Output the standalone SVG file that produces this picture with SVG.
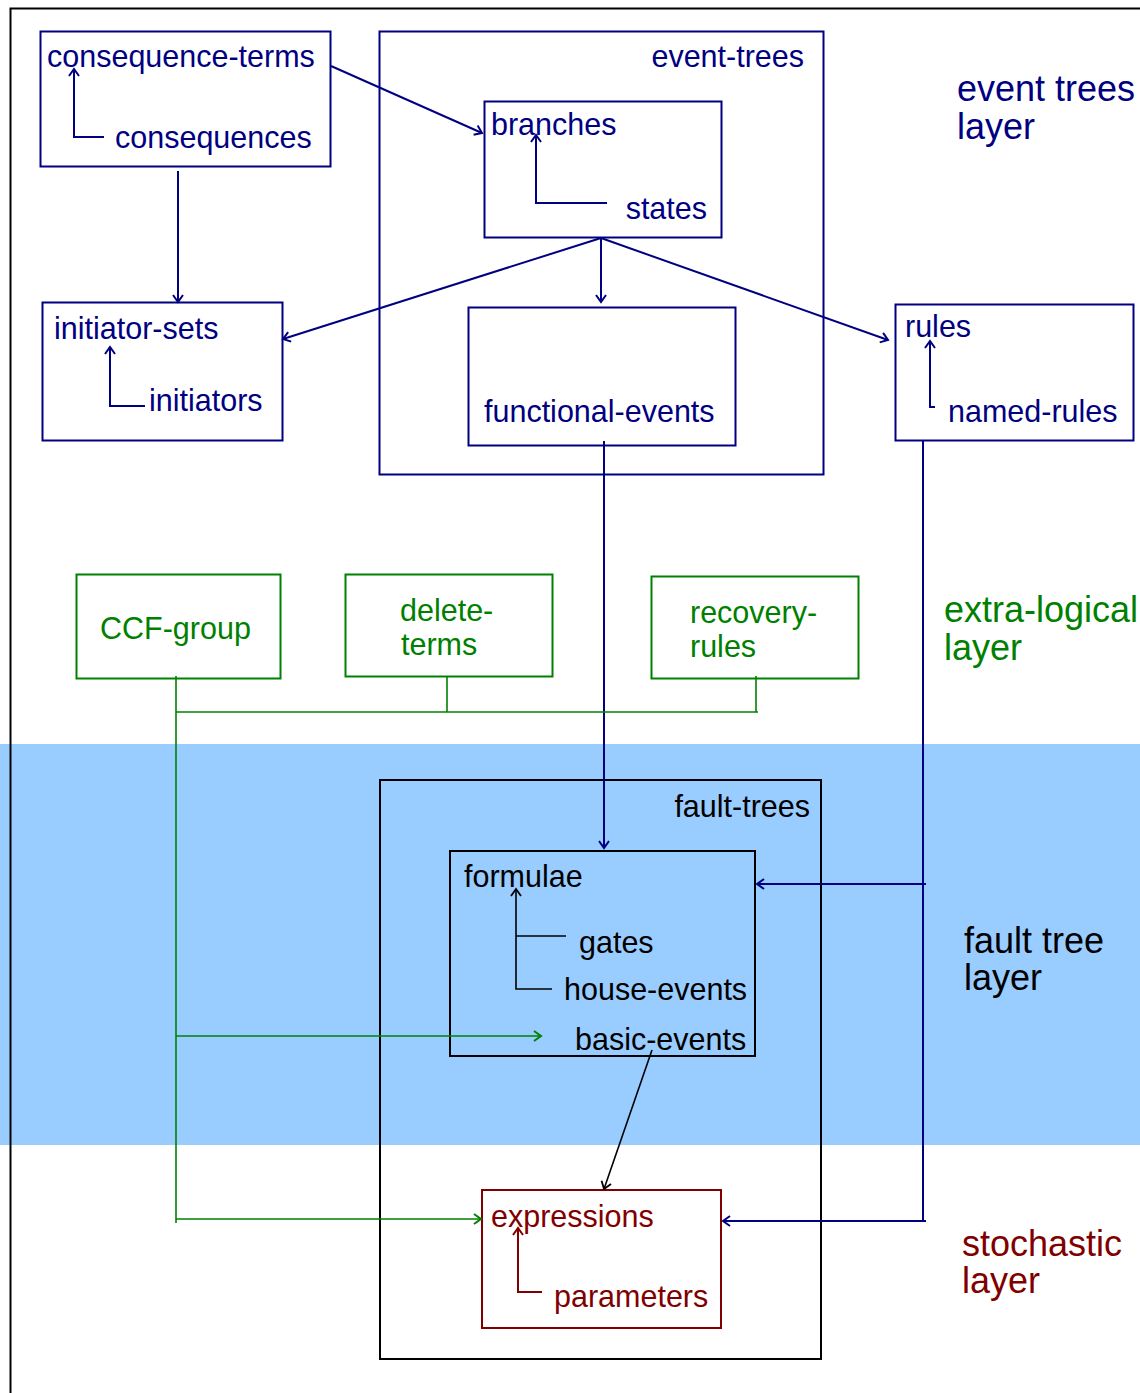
<svg xmlns="http://www.w3.org/2000/svg" width="1140" height="1393" viewBox="0 0 1140 1393">
<style>
text{font-family:"Liberation Sans",Arial,sans-serif;font-size:30.5px}
.lay{font-size:36px}
.nv{fill:#000080}.gr{fill:#008000}.rd{fill:#800000}.bk{fill:#000}
.bn{fill:none;stroke:#000080;stroke-width:2}
.bg{fill:none;stroke:#008000;stroke-width:2}
.bb{fill:none;stroke:#000;stroke-width:2}
.br{fill:none;stroke:#800000;stroke-width:2}
.cn{fill:none;stroke:#000080;stroke-width:2}
.cg{fill:none;stroke:#008000;stroke-width:1.6}
.ck{fill:none;stroke:#000;stroke-width:1.6}
.cr{fill:none;stroke:#800000;stroke-width:2}
</style>
<defs>
<marker id="an" markerUnits="userSpaceOnUse" markerWidth="14" markerHeight="14" refX="10" refY="6" orient="auto"><path d="M3,1 L10,6 L3,11" fill="none" stroke="#000080" stroke-width="2"/></marker>
<marker id="ag" markerUnits="userSpaceOnUse" markerWidth="14" markerHeight="14" refX="10" refY="6" orient="auto"><path d="M3,1 L10,6 L3,11" fill="none" stroke="#008000" stroke-width="2"/></marker>
<marker id="ak" markerUnits="userSpaceOnUse" markerWidth="14" markerHeight="14" refX="10" refY="6" orient="auto"><path d="M3,1 L10,6 L3,11" fill="none" stroke="#000" stroke-width="1.8"/></marker>
<marker id="ar" markerUnits="userSpaceOnUse" markerWidth="14" markerHeight="14" refX="10" refY="6" orient="auto"><path d="M3,1 L10,6 L3,11" fill="none" stroke="#800000" stroke-width="2"/></marker>
</defs>
<rect x="0" y="744" width="1140" height="401" fill="#99ccff"/>
<path d="M10.5,1393 V8.5 H1140" fill="none" stroke="#000" stroke-width="2"/>

<g id="layer-labels">
<text class="lay nv" x="957" y="101">event trees</text>
<text class="lay nv" x="957" y="139">layer</text>
<text class="lay gr" x="944" y="622">extra-logical</text>
<text class="lay gr" x="944" y="660">layer</text>
<text class="lay bk" x="964" y="953">fault tree</text>
<text class="lay bk" x="964" y="990">layer</text>
<text class="lay rd" x="962" y="1256">stochastic</text>
<text class="lay rd" x="962" y="1293">layer</text>
</g>

<g id="event-trees">
<rect class="bn" x="379.5" y="31.5" width="444" height="443"/>
<text class="nv" x="804" y="67" text-anchor="end">event-trees</text>
</g>
<g id="consequence-terms">
<rect class="bn" x="40.5" y="31.5" width="290" height="135"/>
<text class="nv" x="47" y="67">consequence-terms</text>
<text class="nv" x="115" y="148">consequences</text>
<path class="cn" d="M104,137 H74 V69" marker-end="url(#an)"/>
</g>
<g id="branches">
<rect class="bn" x="484.5" y="101.5" width="237" height="136"/>
<text class="nv" x="491" y="135">branches</text>
<text class="nv" x="707" y="219" text-anchor="end">states</text>
<path class="cn" d="M607,203 H536 V135" marker-end="url(#an)"/>
</g>
<g id="initiator-sets">
<rect class="bn" x="42.5" y="302.5" width="240" height="138"/>
<text class="nv" x="54" y="339">initiator-sets</text>
<text class="nv" x="149" y="411">initiators</text>
<path class="cn" d="M145,406 H110 V347" marker-end="url(#an)"/>
</g>
<g id="functional-events">
<rect class="bn" x="468.5" y="307.5" width="267" height="138"/>
<text class="nv" x="484" y="422">functional-events</text>
</g>
<g id="rules">
<rect class="bn" x="895.5" y="304.5" width="238" height="136"/>
<text class="nv" x="905" y="337">rules</text>
<text class="nv" x="948" y="422">named-rules</text>
<path class="cn" d="M935,407 H930 V341" marker-end="url(#an)"/>
</g>

<g id="CCF-group">
<rect class="bg" x="76.5" y="574.5" width="204" height="104"/>
<text class="gr" x="100" y="639">CCF-group</text>
</g>
<g id="delete-terms">
<rect class="bg" x="345.5" y="574.5" width="207" height="102"/>
<text class="gr" x="400" y="621">delete-</text>
<text class="gr" x="401" y="655">terms</text>
</g>
<g id="recovery-rules">
<rect class="bg" x="651.5" y="576.5" width="207" height="102"/>
<text class="gr" x="690" y="623">recovery-</text>
<text class="gr" x="690" y="657">rules</text>
</g>

<g id="fault-trees">
<rect class="bb" x="380" y="780" width="441" height="579"/>
<text class="bk" x="810" y="817" text-anchor="end">fault-trees</text>
</g>
<g id="formulae">
<rect class="bb" x="450" y="851" width="305" height="205"/>
<text class="bk" x="464" y="887">formulae</text>
<text class="bk" x="579" y="953">gates</text>
<text class="bk" x="564" y="1000">house-events</text>
<text class="bk" x="575" y="1050">basic-events</text>
<path class="ck" d="M552,989 H516 V889" marker-end="url(#ak)"/>
<path class="ck" d="M516,936 H566"/>
</g>
<g id="expressions">
<rect class="br" x="482" y="1190" width="239" height="138"/>
<text class="rd" x="491" y="1227">expressions</text>
<text class="rd" x="554" y="1307">parameters</text>
<path class="cr" d="M542,1292 H518 V1228" marker-end="url(#ar)"/>
</g>

<g id="connectors">
<path class="cn" d="M331,66 L482,133" marker-end="url(#an)"/>
<path class="cn" d="M178,171 V302" marker-end="url(#an)"/>
<path class="cn" d="M601,238 L283,339" marker-end="url(#an)"/>
<path class="cn" d="M601,238 V302" marker-end="url(#an)" stroke-width="1.6"/>
<path class="cn" d="M601,238 L888,340" marker-end="url(#an)"/>
<path class="cn" d="M604,441 V848" marker-end="url(#an)"/>
<path class="cn" d="M923,441 V1221"/>
<path class="cn" d="M926,884 H757" marker-end="url(#an)"/>
<path class="cn" d="M926,1221 H723" marker-end="url(#an)"/>
<path class="cg" d="M176,676 V1223"/>
<path class="cg" d="M447,676 V712"/>
<path class="cg" d="M756,676 V712"/>
<path class="cg" d="M176,712 H758" stroke-width="2.2"/>
<path class="cg" d="M176,1036 H541" marker-end="url(#ag)"/>
<path class="cg" d="M176,1219 H481" marker-end="url(#ag)"/>
<path class="ck" d="M652,1050 L604,1189" marker-end="url(#ak)"/>
</g>
</svg>
